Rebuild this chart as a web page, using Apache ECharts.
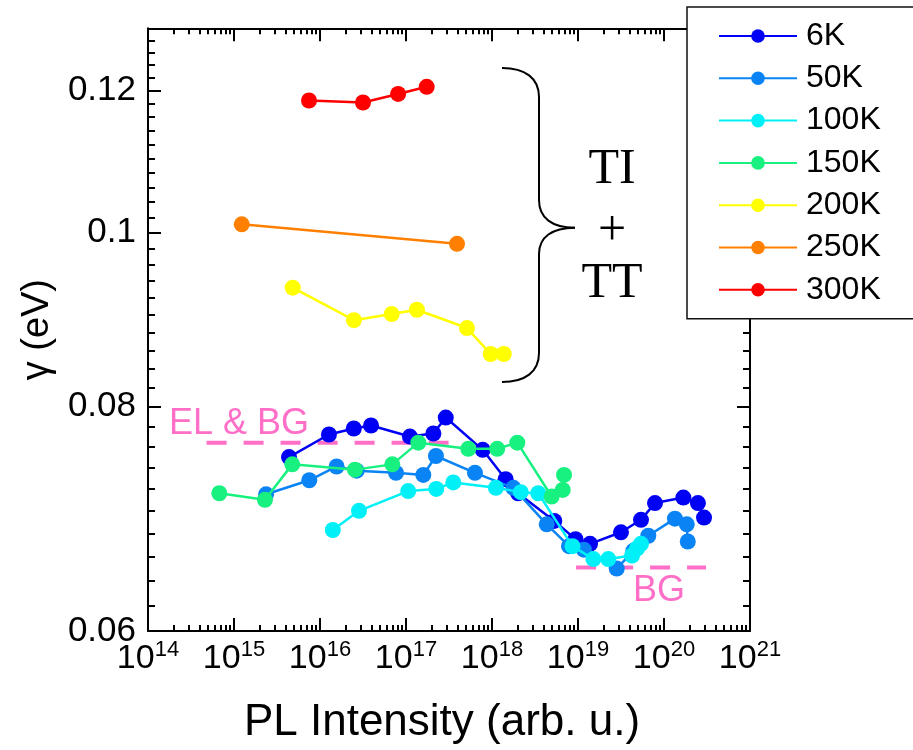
<!DOCTYPE html>
<html><head><meta charset="utf-8">
<script src="https://cdn.jsdelivr.net/npm/echarts@6/dist/echarts.min.js"></script>
<style>html,body{margin:0;padding:0;background:#fff}#c{width:913px;height:750px}</style>
</head><body><div id="c"></div>
<script>
// ---- data ----
const seriesNames = ['6K', '50K', '100K', '150K', '200K', '250K', '300K'];

const x6K = [4.36e15, 1.27e16, 2.47e16, 3.92e16, 1.11e17, 2.08e17, 2.90e17, 7.80e17, 1.44e18, 2.01e18, 5.30e18, 9.35e18, 1.38e19, 3.16e19, 5.40e19, 7.86e19, 1.68e20, 2.48e20, 2.92e20];
const y6K = [0.0750, 0.0772, 0.0778, 0.0781, 0.0770, 0.0773, 0.0789, 0.0757, 0.0729, 0.0716, 0.0691, 0.0675, 0.0671, 0.0681, 0.0692, 0.0707, 0.0712, 0.0707, 0.0694];

const x50K = [2.36e15, 7.51e15, 1.56e16, 2.67e16, 7.65e16, 1.59e17, 2.23e17, 6.34e17, 1.77e18, 4.33e18, 7.86e18, 1.17e19, 2.82e19, 4.40e19, 6.57e19, 1.34e20, 1.84e20, 1.89e20];
const y50K = [0.0715, 0.0728, 0.0741, 0.0737, 0.0735, 0.0733, 0.0751, 0.0735, 0.0721, 0.0688, 0.0669, 0.0666, 0.0650, 0.0665, 0.0678, 0.0693, 0.0688, 0.0673];

const x100K = [1.41e16, 2.84e16, 1.06e17, 2.25e17, 3.55e17, 1.11e18, 2.16e18, 3.45e18, 8.63e18, 1.51e19, 2.25e19, 4.25e19, 4.85e19, 5.40e19];
const y100K = [0.0683, 0.0700, 0.0718, 0.0720, 0.0726, 0.0721, 0.0717, 0.0716, 0.0669, 0.0658, 0.0658, 0.0661, 0.0667, 0.0671];

const x150K = [6.75e14, 2.29e15, 4.76e15, 2.55e16, 6.93e16, 1.39e17, 5.30e17, 1.15e18, 1.97e18, 4.94e18, 6.64e18, 6.88e18];
const y150K = [0.0716, 0.0710, 0.0743, 0.0738, 0.0743, 0.0764, 0.0758, 0.0758, 0.0764, 0.0713, 0.0719, 0.0733];

const x200K = [4.82e15, 2.48e16, 6.82e16, 1.34e17, 5.12e17, 9.66e17, 1.37e18];
const y200K = [0.0932, 0.0894, 0.0901, 0.0906, 0.0885, 0.0856, 0.0856];

const x250K = [1.23e15, 3.92e17];
const y250K = [0.1011, 0.0986];

const x300K = [7.45e15, 3.16e16, 8.10e16, 1.74e17];
const y300K = [0.1185, 0.1182, 0.1195, 0.1206];

// guide lines (pink dashed)
const elbgX = [4.8e14, 3.16e17];
const elbgY = [0.0764, 0.0764];
const bgX = [9.5e18, 3.08e20];
const bgY = [0.0651, 0.0651];

// ticks
const yTickValues = [0.06, 0.08, 0.1, 0.12];
const yTickLabels = ['0.06', '0.08', '0.1', '0.12'];
const yMinorTickValues = [0.062, 0.064, 0.066, 0.068, 0.070, 0.072, 0.074, 0.076, 0.078,
  0.082, 0.084, 0.086, 0.088, 0.090, 0.092, 0.094, 0.096, 0.098,
  0.102, 0.104, 0.106, 0.108, 0.110, 0.112, 0.114, 0.116, 0.118,
  0.122, 0.124, 0.126, 0.128];
const xTickExponents = [14, 15, 16, 17, 18, 19, 20, 21];
const xMinorMantissas = [2, 3, 4, 5, 6, 7, 8, 9];

// ---- build ----
const xMajor = xTickExponents.map(e => Math.pow(10, e));
const xMinor = [];
xTickExponents.slice(0, -1).forEach(e => xMinorMantissas.forEach(m => xMinor.push(m * Math.pow(10, e))));

const colors = ['#0000f5', '#0a84f4', '#00f0f8', '#18f080', '#ffff00', '#ff8000', '#ff0000'];
const xs = [x6K, x50K, x100K, x150K, x200K, x250K, x300K];
const ys = [y6K, y50K, y100K, y150K, y200K, y250K, y300K];
const pink = '#ff6ec7';
const FONT = 'Liberation Sans';

function zip(a, b) { return a.map((v, i) => [v, b[i]]); }

function yLabel(v) {
  const i = yTickValues.findIndex(t => Math.abs(t - v) < 1e-6);
  return i >= 0 ? yTickLabels[i] : '';
}
function xLabel(v) {
  const e = Math.round(Math.log10(v));
  return '{b|10}{s|' + e + '}';
}

const X_MIN = 1e14, X_MAX = 1e21 * 1.000001, Y_MIN = 0.06, Y_MAX = 0.13;
const tickLine = { color: '#000', width: 2 };

function xAx(pos, major, show) {
  return {
    type: 'log', logBase: 10, min: X_MIN, max: X_MAX, position: pos,
    axisLine: { show: show, lineStyle: { color: '#000', width: 2 } },
    axisTick: { show: true, inside: true, length: major ? 13 : 6, lineStyle: tickLine,
      customValues: major ? xMajor : xMinor },
    axisLabel: (pos === 'bottom' && major) ? {
      show: true, customValues: xMajor, formatter: xLabel, margin: 8,
      showMinLabel: true, showMaxLabel: true, hideOverlap: false,
      rich: {
        b: { fontSize: 34, fontFamily: FONT, color: '#000', lineHeight: 40 },
        s: { fontSize: 22, fontFamily: FONT, color: '#000', lineHeight: 16, verticalAlign: 'top' }
      }
    } : { show: false },
    splitLine: { show: false },
    name: (pos === 'bottom' && major) ? 'PL Intensity (arb. u.)' : '',
    nameLocation: 'middle', nameGap: 70,
    nameTextStyle: { fontSize: 44, fontFamily: FONT, color: '#000', padding: [0, 14, 0, 0] }
  };
}
function yAx(pos, major, show) {
  return {
    type: 'log', logBase: 10, min: Y_MIN, max: Y_MAX, position: pos,
    axisLine: { show: show, lineStyle: { color: '#000', width: 2 } },
    axisTick: { show: true, inside: true, length: major ? 13 : 7, lineStyle: tickLine,
      customValues: major ? yTickValues : yMinorTickValues },
    axisLabel: (pos === 'left' && major) ? {
      show: true, customValues: yTickValues, formatter: yLabel, margin: 12,
      fontSize: 35, fontFamily: FONT, color: '#000'
    } : { show: false },
    splitLine: { show: false },
    name: (pos === 'left' && major) ? 'γ (eV)' : '',
    nameLocation: 'middle', nameGap: 90, nameRotate: 90,
    nameTextStyle: { fontSize: 38, fontFamily: FONT, color: '#000' }
  };
}

const series = [
  { name: 'EL & BG line', type: 'line', data: zip(elbgX, elbgY), symbol: 'none', silent: true,
    lineStyle: { color: pink, width: 4, type: [20, 17] }, z: 1 },
  { name: 'BG line', type: 'line', data: zip(bgX, bgY), symbol: 'none', silent: true,
    lineStyle: { color: pink, width: 4, type: [20, 17] }, z: 1 }
];
seriesNames.forEach((n, i) => {
  series.push({
    name: n, type: 'line', data: zip(xs[i], ys[i]),
    symbol: 'circle', symbolSize: 16, color: colors[i],
    lineStyle: { width: 2.5, color: colors[i] },
    itemStyle: { color: colors[i] },
    z: 2 + i
  });
});

const braceStyle = { fill: 'none', stroke: '#000', lineWidth: 2 };
const serif = '50px "Liberation Serif"';
const chart = echarts.init(document.getElementById('c'), null, { renderer: 'canvas' });
chart.setOption({
  animation: false,
  backgroundColor: '#fff',
  grid: { left: 148, top: 28.3, width: 602, height: 603.2, containLabel: false },
  xAxis: [xAx('bottom', true, true), xAx('bottom', false, false), xAx('top', true, true), xAx('top', false, false)],
  yAxis: [yAx('left', true, true), yAx('left', false, false), yAx('right', true, true), yAx('right', false, false)],
  legend: {
    data: seriesNames, orient: 'vertical', left: 687, top: 7,
    padding: [13, 40, 13, 31], itemGap: 10.3, itemWidth: 78, itemHeight: 17,
    backgroundColor: '#fff', borderColor: '#111', borderWidth: 1.5,
    textStyle: { fontSize: 32, fontFamily: FONT, color: '#000', lineHeight: 32, padding: [0, 0, 0, 4] },
    z: 10
  },
  graphic: [
    { type: 'bezierCurve', shape: { x1: 502, y1: 68, cpx1: 525, cpy1: 68, cpx2: 539, cpy2: 78, x2: 539, y2: 97 }, style: braceStyle },
    { type: 'line', shape: { x1: 539, y1: 97, x2: 539, y2: 200 }, style: braceStyle },
    { type: 'bezierCurve', shape: { x1: 539, y1: 200, cpx1: 539, cpy1: 218, cpx2: 552, cpy2: 227.7, x2: 575, y2: 227.7 }, style: braceStyle },
    { type: 'bezierCurve', shape: { x1: 575, y1: 227.7, cpx1: 552, cpy1: 227.7, cpx2: 539, cpy2: 237, x2: 539, y2: 254 }, style: braceStyle },
    { type: 'line', shape: { x1: 539, y1: 254, x2: 539, y2: 353 }, style: braceStyle },
    { type: 'bezierCurve', shape: { x1: 539, y1: 353, cpx1: 539, cpy1: 372, cpx2: 525, cpy2: 382, x2: 502, y2: 382 }, style: braceStyle },
    { type: 'text', x: 612, y: 170, style: { text: 'TI', font: serif, fill: '#000', align: 'center', verticalAlign: 'middle' } },
    { type: 'text', x: 612, y: 232, style: { text: '+', font: serif, fill: '#000', align: 'center', verticalAlign: 'middle' } },
    { type: 'text', x: 612, y: 284, style: { text: 'TT', font: serif, fill: '#000', align: 'center', verticalAlign: 'middle' } },
    { type: 'text', x: 169, y: 424, style: { text: 'EL & BG', font: '36px "Liberation Sans"', fill: pink, align: 'left', verticalAlign: 'middle' } },
    { type: 'text', x: 659, y: 591.5, style: { text: 'BG', font: '36px "Liberation Sans"', fill: pink, align: 'center', verticalAlign: 'middle' } }
  ],
  series: series
});
</script></body></html>
